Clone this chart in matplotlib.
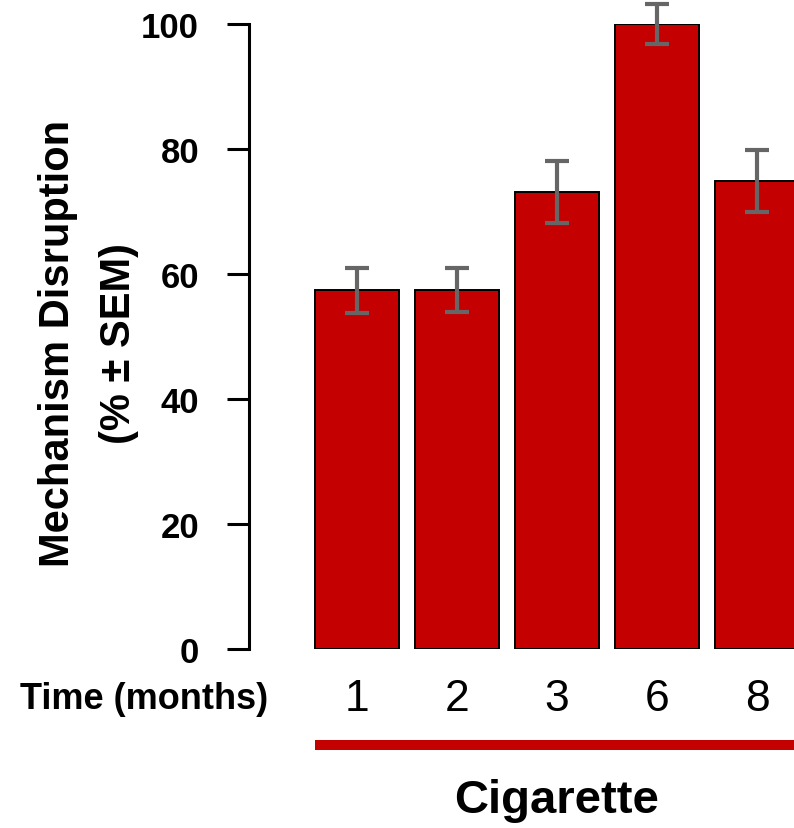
import matplotlib.pyplot as plt
import matplotlib.transforms as mtransforms

plt.rcParams['font.family'] = ['Liberation Sans', 'DejaVu Sans']

# -----------------------------
# Data
# -----------------------------
months = ["1", "2", "3", "6", "8"]
disruption = [57.4, 57.4, 73.1, 100.0, 74.9]
sem = [3.6, 3.5, 5.0, 3.2, 5.0]
group = "Cigarette"

bar_color = "#C40000"

fig = plt.figure(figsize=(7.94, 8.29), dpi=100)
ax = fig.add_axes([249 / 794, 1 - 650 / 829, 1 - 249 / 794, 625 / 829])

x = list(range(len(months)))
ax.bar(x, disruption, width=0.84, color=bar_color, edgecolor="black",
       linewidth=1.4, zorder=2)
ax.errorbar(x, disruption, yerr=sem, fmt="none", ecolor="#666666",
            elinewidth=3, capsize=8.5, capthick=3, zorder=3, clip_on=False)

ax.set_xlim(-1.08, 4.37)
ax.set_ylim(0, 100)

# axes styling
for s in ["top", "right", "bottom"]:
    ax.spines[s].set_visible(False)
ax.spines["left"].set_linewidth(2.2)
ax.set_yticks([0, 20, 40, 60, 80, 100])
ax.tick_params(axis="y", length=16, width=2.2, labelsize=25, pad=20)
for lbl in ax.get_yticklabels():
    lbl.set_fontweight("bold")

ax.set_xticks(x)
ax.set_xticklabels(months, fontsize=32)
ax.tick_params(axis="x", length=0, pad=21)

ax.set_ylabel("Mechanism Disruption\n(% \u00b1 SEM)", fontsize=30,
              fontweight="bold", linespacing=1.67)
ax.yaxis.set_label_coords(-110 / 545, 0.49)

# row label for time
trans = mtransforms.blended_transform_factory(fig.transFigure, ax.transAxes)
ax.text(144 / 794, -50 / 625, "Time (months)", transform=trans,
        ha="center", va="center", fontsize=26, fontweight="bold")

# group line and label
trans2 = mtransforms.blended_transform_factory(ax.transData, ax.transAxes)
ax.plot([-0.42, 4.6], [-96 / 625, -96 / 625], transform=trans2,
        color=bar_color, linewidth=7.2, clip_on=False, solid_capstyle="butt")
ax.text(2, -151 / 625, group, transform=trans2, ha="center", va="center",
        fontsize=34, fontweight="bold")

plt.savefig("out.png", dpi=100)
